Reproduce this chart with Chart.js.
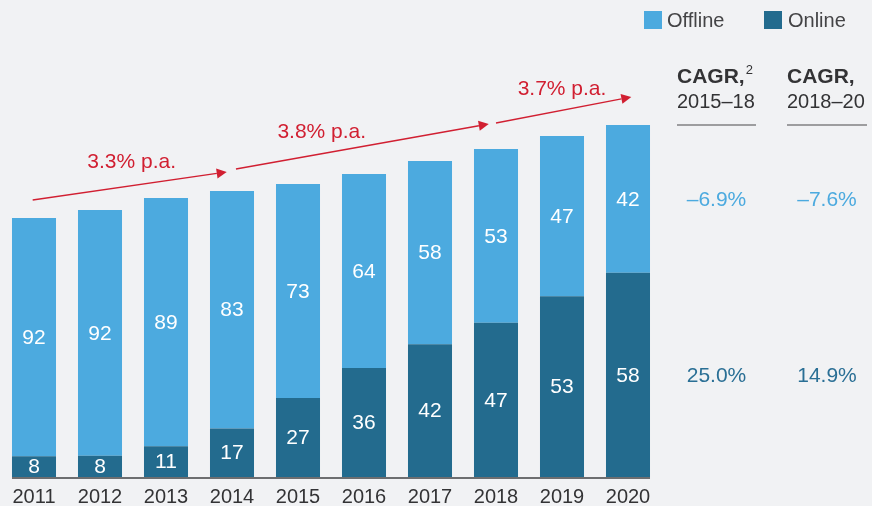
<!DOCTYPE html>
<html>
<head>
<meta charset="utf-8">
<script src="https://cdn.jsdelivr.net/npm/chart.js@4"></script>
<style>
  html, body { margin: 0; padding: 0; background: #f1f2f4; }
  #wrap { width: 872px; height: 506px; position: relative; }
</style>
</head>
<body>
<div id="wrap"><canvas id="chart" width="872" height="506"></canvas></div>
<script>
// Market size by year (relative units) and offline/online shares in %
const years = ['2011', '2012', '2013', '2014', '2015', '2016', '2017', '2018', '2019', '2020'];
const totals = [259, 267, 279, 286, 293, 303, 316, 328, 341, 352];
const offlineShare = [92, 92, 89, 83, 73, 64, 58, 53, 47, 42];
const onlineShare = [8, 8, 11, 17, 27, 36, 42, 47, 53, 58];

// Growth arrows: [from index, from value, to index, to value], label and label anchor
const growthLabels = ['3.3% p.a.', '3.8% p.a.', '3.7% p.a.'];
const growthFrom = [[-0.02, 277], [3.06, 308], [7.0, 354]];
const growthTo = [[2.92, 305], [6.89, 353], [9.05, 380]];
const growthLabelAt = [[1.48, 315], [4.36, 345], [8.0, 388]];

// CAGR table on the right
const cagrTitles = ['CAGR,', 'CAGR,'];
const cagrPeriods = ['2015–18', '2018–20'];
const cagrOffline = ['–6.9%', '–7.6%'];
const cagrOnline = ['25.0%', '14.9%'];

const OFFLINE = '#4caadf';
const ONLINE = '#236b8e';
const RED = '#d11f31';
const FONT = '"Liberation Sans", Arial, Helvetica, sans-serif';

const onlineVals = totals.map((t, i) => t * onlineShare[i] / 100);
const offlineVals = totals.map((t, i) => t * offlineShare[i] / 100);

const decorations = {
    id: 'decorations',
    afterDatasetsDraw(chart) {
        const ctx = chart.ctx;
        const x = chart.scales.x, y = chart.scales.y;
        const metaOn = chart.getDatasetMeta(0), metaOff = chart.getDatasetMeta(1);

        // segment labels
        ctx.save();
        ctx.fillStyle = '#ffffff';
        ctx.font = '21px ' + FONT;
        ctx.textAlign = 'center';
        ctx.textBaseline = 'middle';
        metaOn.data.forEach((bar, i) => {
            ctx.fillText(String(onlineShare[i]), bar.x, (bar.y + bar.base) / 2 + 1);
        });
        metaOff.data.forEach((bar, i) => {
            ctx.fillText(String(offlineShare[i]), bar.x, (bar.y + bar.base) / 2 + 1);
        });

        // baseline under the bars
        const first = metaOn.data[0], last = metaOn.data[metaOn.data.length - 1];
        ctx.strokeStyle = '#6d6e70';
        ctx.lineWidth = 2;
        ctx.beginPath();
        ctx.moveTo(first.x - first.width / 2, y.getPixelForValue(0) + 1);
        ctx.lineTo(last.x + last.width / 2, y.getPixelForValue(0) + 1);
        ctx.stroke();

        // growth arrows
        const step = x.getPixelForValue(1) - x.getPixelForValue(0);
        const px = idx => x.getPixelForValue(0) + idx * step;
        ctx.strokeStyle = RED;
        ctx.fillStyle = RED;
        ctx.lineWidth = 1.3;
        growthFrom.forEach((from, k) => {
            const to = growthTo[k];
            const x0 = px(from[0]), y0 = y.getPixelForValue(from[1]);
            const x1 = px(to[0]), y1 = y.getPixelForValue(to[1]);
            const ang = Math.atan2(y1 - y0, x1 - x0);
            const head = 10, half = 5;
            const bx = x1 - head * Math.cos(ang), by = y1 - head * Math.sin(ang);
            ctx.beginPath();
            ctx.moveTo(x0, y0);
            ctx.lineTo(bx, by);
            ctx.stroke();
            ctx.beginPath();
            ctx.moveTo(x1, y1);
            ctx.lineTo(bx + half * Math.sin(ang), by - half * Math.cos(ang));
            ctx.lineTo(bx - half * Math.sin(ang), by + half * Math.cos(ang));
            ctx.closePath();
            ctx.fill();
            const lab = growthLabelAt[k];
            ctx.font = '21px ' + FONT;
            ctx.textAlign = 'center';
            ctx.fillText(growthLabels[k], px(lab[0]), y.getPixelForValue(lab[1]));
        });

        // legend
        ctx.textAlign = 'left';
        ctx.font = '20px ' + FONT;
        ctx.fillStyle = OFFLINE;
        ctx.fillRect(644, 11, 18, 18);
        ctx.fillStyle = '#444446';
        ctx.fillText(chart.data.datasets[1].label, 667, 21);
        ctx.fillStyle = ONLINE;
        ctx.fillRect(764, 11, 18, 18);
        ctx.fillStyle = '#444446';
        ctx.fillText(chart.data.datasets[0].label, 788, 21);

        // CAGR table
        const cols = [[677, 756], [787, 867]];
        const offRow = (metaOff.data[9].y + metaOff.data[9].base) / 2 + 1;
        const onRow = (metaOn.data[9].y + metaOn.data[9].base) / 2 + 1;
        cols.forEach((c, k) => {
            ctx.textAlign = 'left';
            ctx.fillStyle = '#333335';
            ctx.font = 'bold 21px ' + FONT;
            ctx.fillText(cagrTitles[k], c[0], 77);
            if (k === 0) {
                const w = ctx.measureText(cagrTitles[k]).width;
                ctx.font = '13px ' + FONT;
                ctx.fillText('2', c[0] + w + 1, 70);
            }
            ctx.font = '20px ' + FONT;
            ctx.fillText(cagrPeriods[k], c[0], 102);
            ctx.strokeStyle = '#9d9d9f';
            ctx.lineWidth = 2;
            ctx.beginPath();
            ctx.moveTo(c[0], 125);
            ctx.lineTo(c[1], 125);
            ctx.stroke();
            ctx.textAlign = 'center';
            ctx.font = '21px ' + FONT;
            ctx.fillStyle = OFFLINE;
            ctx.fillText(cagrOffline[k], (c[0] + c[1]) / 2, offRow);
            ctx.fillStyle = '#2a6f95';
            ctx.fillText(cagrOnline[k], (c[0] + c[1]) / 2, onRow);
        });
        ctx.restore();
    }
};

new Chart(document.getElementById('chart'), {
    type: 'bar',
    data: {
        labels: years,
        datasets: [
            { label: 'Online', data: onlineVals, backgroundColor: ONLINE, borderWidth: 0 },
            { label: 'Offline', data: offlineVals, backgroundColor: OFFLINE, borderWidth: 0 }
        ]
    },
    options: {
        responsive: false,
        animation: false,
        maintainAspectRatio: false,
        layout: { padding: { left: 1, right: 211, top: 0, bottom: 0 } },
        categoryPercentage: 1,
        barPercentage: 0.667,
        plugins: { legend: { display: false }, tooltip: { enabled: false } },
        scales: {
            x: {
                stacked: true,
                grid: { display: false },
                border: { display: false },
                ticks: { color: '#333335', font: { family: FONT, size: 20 }, padding: 0 },
                afterFit: s => { s.height = 29; }
            },
            y: {
                stacked: true,
                display: false,
                min: 0,
                max: 477
            }
        }
    },
    plugins: [decorations]
});
</script>
</body>
</html>
